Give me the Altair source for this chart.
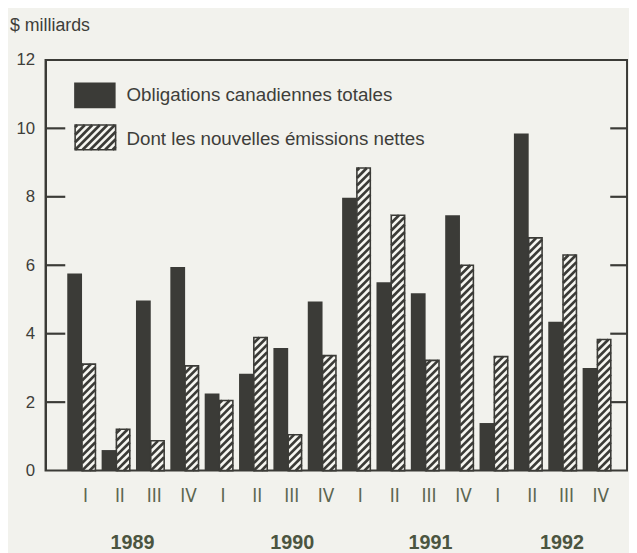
import json
import altair as alt
import pandas as pd

# ---------------- data ----------------
years = ["1989", "1990", "1991", "1992"]
quarter_names = ["I", "II", "III", "IV"]
total = [5.76, 0.60, 4.97, 5.95, 2.25, 2.83, 3.58, 4.94,
         7.97, 5.50, 5.18, 7.46, 1.39, 9.85, 4.35, 3.00]
net = [3.11, 1.21, 0.87, 3.06, 2.05, 3.89, 1.05, 3.36,
       8.84, 7.46, 3.22, 6.00, 3.33, 6.80, 6.30, 3.83]
y_ticks = [0, 2, 4, 6, 8, 10, 12]
inner_ticks = [2, 4, 6, 8, 10]
legend_labels = ["Obligations canadiennes totales",
                 "Dont les nouvelles émissions nettes"]
unit_label = "$ milliards"

# ---------------- layout / style ----------------
W, H = 589, 416
XS = 34.8                 # px per quarter
X_LO = -1.063
X_HI = X_LO + W / XS
Y_MAX = 12
YS = H / Y_MAX            # px per unit
DARK_W, NET_W = 0.43, 0.39
DARK = "#3b3b37"
LIGHT = "#f6f6f1"
TEXT = "#3e3e3a"
BG = "#f2f2ed"
HATCH_PERIOD_PX = 7.6
YEAR_NUDGE = [-0.03, 0.62, 0.64, 0.47]
QFONT = "Liberation Sans Narrow, DejaVu Sans Condensed, Liberation Sans, sans-serif"


def px2x(px):
    return X_LO + px / XS


def px2y(py):
    return Y_MAX - py / YS


def hatch(x0, x1, y0, y1, key):
    """Diagonal '/' stripes at 45 deg (in pixels) clipped to a rectangle in data units."""
    k = XS / YS
    p = HATCH_PERIOD_PX / YS
    w = x1 - x0
    segs = []
    j = int(-(k * w) / p) - 1
    while True:
        c = y0 + j * p
        if c > y1:
            break
        t_lo = max(0.0, (y0 - c) / k)
        t_hi = min(w, (y1 - c) / k)
        if t_hi - t_lo > 1e-6:
            segs.append({"key": key, "xa": x0 + t_lo, "xb": x0 + t_hi,
                         "ya": c + k * t_lo, "yb": c + k * t_hi})
        j += 1
    return segs


n = len(total)
bars = pd.DataFrame({
    "i": list(range(n)),
    "total": total,
    "net": net,
})
bars["zero"] = 0.0
bars["dx0"] = bars["i"] - DARK_W
bars["dx1"] = bars["i"]
bars["nx0"] = bars["i"]
bars["nx1"] = bars["i"] + NET_W

segs = []
for r in bars.itertuples():
    segs += hatch(r.nx0, r.nx1, 0.0, r.net, r.i)

# legend boxes (pixel layout -> data units)
leg_dark = pd.DataFrame([{"x0": px2x(29), "x1": px2x(71), "y0": px2y(23), "y1": px2y(49)}])
leg_net = pd.DataFrame([{"x0": px2x(30), "x1": px2x(71), "y0": px2y(66), "y1": px2y(91)}])
segs += hatch(leg_net.x0[0], leg_net.x1[0], leg_net.y1[0], leg_net.y0[0], "leg")
hatch_df = pd.DataFrame(segs)
leg_text = pd.DataFrame({"label": legend_labels,
                         "x": [px2x(82), px2x(82)],
                         "y": [px2y(36), px2y(80)]})

year_df = pd.DataFrame({"year": years,
                        "x": [4 * k + 1.5 + YEAR_NUDGE[k] for k in range(len(years))]})

xscale = alt.Scale(domain=[X_LO, X_HI], nice=False, zero=False)
yscale = alt.Scale(domain=[0, Y_MAX], nice=False)

label_expr = json.dumps(quarter_names * len(years)) + "[datum.value]"

x_axis = alt.Axis(values=list(range(n)), labelExpr=label_expr, domain=False, ticks=False,
                  grid=False, title=None, labelFont=QFONT,
                  labelFontSize=19, labelColor="#5c6650", labelPadding=16, labelOffset=3,
                  labelOverlap=False, labelBound=False, labelFlush=False)
y_axis = alt.Axis(values=y_ticks, domain=True, domainColor=DARK, domainWidth=2, ticks=False,
                  grid=False, title=None, labelFontSize=17, labelColor=TEXT, labelPadding=11,
                  labelOverlap=False)


def X(f):
    return alt.X(f, scale=xscale, axis=x_axis)


def Y(f):
    return alt.Y(f, scale=yscale, axis=y_axis)


dark_bars = alt.Chart(bars).mark_rect(color=DARK).encode(
    x=X("dx0:Q"), x2="dx1:Q", y=Y("total:Q"), y2="zero:Q")
net_base = alt.Chart(bars).mark_rect(color=LIGHT).encode(
    x=X("nx0:Q"), x2="nx1:Q", y=Y("net:Q"), y2="zero:Q")
leg_dark_mark = alt.Chart(leg_dark).mark_rect(color=DARK).encode(
    x=X("x0:Q"), x2="x1:Q", y=Y("y0:Q"), y2="y1:Q")
leg_net_base = alt.Chart(leg_net).mark_rect(color=LIGHT).encode(
    x=X("x0:Q"), x2="x1:Q", y=Y("y0:Q"), y2="y1:Q")

hatch_rules = alt.Chart(hatch_df).mark_rule(color=DARK, strokeWidth=2.7, strokeCap="butt").encode(
    x=X("xa:Q"), x2="xb:Q", y=Y("ya:Q"), y2="yb:Q")
net_outline = alt.Chart(bars).mark_rect(fillOpacity=0, stroke=DARK, strokeWidth=1.6).encode(
    x=X("nx0:Q"), x2="nx1:Q", y=Y("net:Q"), y2="zero:Q")
leg_net_outline = alt.Chart(leg_net).mark_rect(fillOpacity=0, stroke=DARK, strokeWidth=1.6).encode(
    x=X("x0:Q"), x2="x1:Q", y=Y("y0:Q"), y2="y1:Q")

ticks_df = pd.DataFrame({"v": inner_ticks})
left_ticks = alt.Chart(ticks_df).mark_rule(color=DARK, strokeWidth=2.2).encode(
    y=Y("v:Q"), x=alt.value(0), x2=alt.value(20))
right_ticks = alt.Chart(ticks_df).mark_rule(color=DARK, strokeWidth=2.2).encode(
    y=Y("v:Q"), x=alt.value(W - 17), x2=alt.value(W))

leg_txt = alt.Chart(leg_text).mark_text(align="left", baseline="middle", fontSize=19,
                                        color=TEXT).encode(
    x=X("x:Q"), y=Y("y:Q"), text="label:N")

year_txt = alt.Chart(year_df).mark_text(align="center", baseline="alphabetic", fontSize=20,
                                        fontWeight="bold", color="#4b5540").encode(
    x=X("x:Q"), y=alt.value(H + 79), text="year:N")

unit_txt = alt.Chart(pd.DataFrame({"t": [unit_label]})).mark_text(
    align="left", baseline="alphabetic", fontSize=18, color=TEXT).encode(
    x=alt.value(-36), y=alt.value(-29), text="t:N")

chart = alt.layer(
    dark_bars, net_base, leg_dark_mark, leg_net_base, hatch_rules, net_outline,
    leg_net_outline, left_ticks, right_ticks, leg_txt, year_txt, unit_txt,
).properties(
    width=W, height=H,
    autosize=alt.AutoSizeParams(type="none"),
    padding={"left": 38, "top": 49, "right": 2, "bottom": 88},
    background=BG,
).configure(font="Liberation Sans").configure_view(
    stroke=DARK, strokeWidth=2
).configure_axis(labelOverlap=False)

chart.save("out.html", embed_options={"renderer": "svg", "actions": False})
